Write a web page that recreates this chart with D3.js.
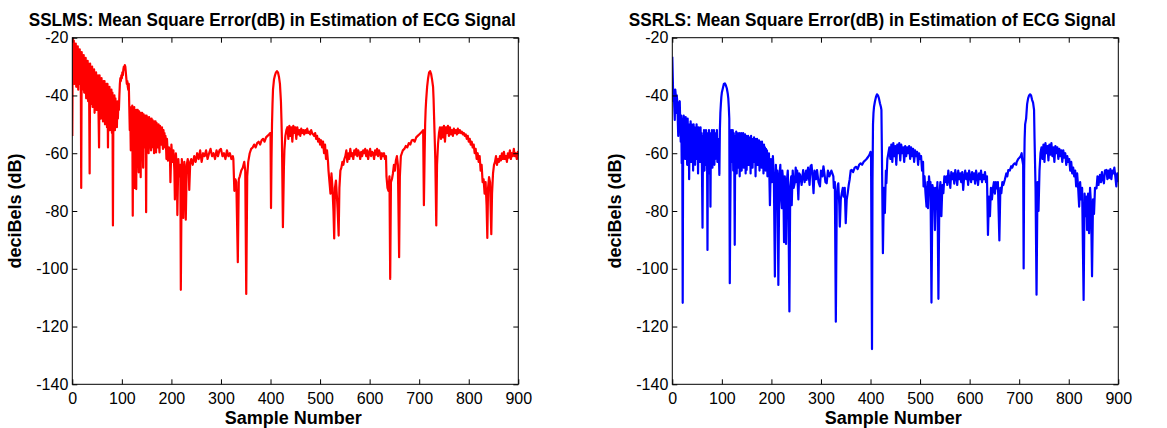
<!DOCTYPE html>
<html>
<head>
<meta charset="utf-8">
<script src="https://cdnjs.cloudflare.com/ajax/libs/d3/7.8.5/d3.min.js"></script>
<style>
  body { margin: 0; background: #fff; }
  text { font-family: "Liberation Sans", Arial, sans-serif; }
</style>
</head>
<body>
<div id="chart"></div>
<script>
// Tick values
var xTickValues = [0, 100, 200, 300, 400, 500, 600, 700, 800, 900];
var yTickValues = [-140, -120, -100, -80, -60, -40, -20];

// Titles
var panelTitles = [
  "SSLMS: Mean Square Error(dB) in Estimation of ECG Signal",
  "SSRLS: Mean Square Error(dB) in Estimation of ECG Signal"
];

// SSLMS mean square error, [sample number, dB]
var sslmsMse = [
  [0,-54],[1,-20],[2,-33],[3,-21],[4,-36],[5,-22],[6,-30],[7,-22],[8,-37],[9,-23],[10,-34],[11,-23],[12,-38],[13,-24],[14,-33],[15,-24],[16,-36],[17,-25],[18,-72],[19,-25],
  [20,-38],[21,-26],[22,-34],[23,-26],[24,-39],[25,-27],[26,-36],[27,-27],[28,-41],[29,-28],[30,-37],[31,-28],[32,-42],[33,-29],[34,-40],[35,-67],[36,-29],[37,-43],[38,-30],[39,-39],
  [40,-30],[41,-44],[42,-31],[43,-41],[44,-31],[45,-46],[46,-32],[47,-42],[48,-32],[49,-45],[50,-33],[51,-43],[52,-33],[53,-47],[54,-58],[55,-33],[56,-46],[57,-34],[58,-48],[59,-34],
  [60,-44],[61,-35],[62,-49],[63,-35],[64,-46],[65,-35],[66,-50],[67,-36],[68,-47],[69,-36],[70,-51],[71,-36],[72,-58],[73,-37],[74,-48],[75,-37],[76,-52],[77,-38],[78,-49],[79,-38],
  [80,-53],[81,-39],[82,-85],[83,-40],[84,-50],[85,-40],[86,-52],[87,-41],[88,-49],[89,-42],[90,-51],[91,-42],[92,-48],
  [93,-42],[94,-45],[95,-40],[96,-36],[97,-34],[98,-35],[99,-33],[100,-34],[101,-32],[102,-33],[103,-31],[104,-30],[105,-31],[106,-29.5],[107,-30],[108,-32],[109,-34],[110,-36],
  [111,-35],[112,-37],[113,-38],[114,-36],[115,-44],[116,-52],[117,-47],
  [118,-59],[119,-44],[120,-50],[121,-43.5],[122,-81.6],[123,-44],[124,-56],[125,-44],[126,-72],[127,-45],[128,-58],[129,-72.4],[130,-45],[131,-55],[132,-45],[133,-60],[134,-66.6],
  [135,-45.5],[136,-57],[137,-46],[138,-68.3],[139,-46],[140,-59],[141,-46],[142,-56],[143,-65],[144,-46.5],[145,-58],[146,-47],[147,-55],[148,-47],[149,-80.4],[150,-47],[151,-57],
  [152,-47.5],[153,-58],[154,-60],[155,-47.5],[156,-56],[157,-48],[158,-57],[159,-59],[160,-48],[161,-55],[162,-48.5],[163,-58],[164,-49],[165,-60],[166,-49],[167,-56],[168,-49],
  [169,-59.7],[170,-49.5],[171,-56],[172,-50],[173,-58],[174,-50],[175,-57],[176,-59.7],[177,-50.5],[178,-55],[179,-51],[180,-57],[181,-51],[182,-56],[183,-58.5],[184,-52],
  [185,-56],[186,-53],[187,-58],[188,-54],[189,-57],[190,-62],[191,-55],[192,-58],[193,-62.6],
  [195,-58],[197,-60],[198,-70],[200,-57],[202,-63],[204,-59],[206,-66],[207,-76],[209,-60],[211,-65],[212,-81.4],[214,-62],[216,-68],[218,-64],[219,-107.3],[221,-62],[223,-70],
  [224,-82.4],[226,-63],[228,-69],[229,-83],[231,-64],[233,-62],[235,-66],[236,-72.7],[238,-63],[240,-62],[243,-64],[246,-61],[249,-63],[252,-60],[255,-62],[258,-59],[261,-63],
  [264,-60],[267,-61],[270,-59],[273,-62],[276,-60],[279,-58.5],[282,-61],[285,-60],[288,-62],[291,-59],[294,-61],[297,-59],[300,-58.5],[303,-61],[306,-60],[309,-62],[312,-59],
  [315,-61],[318,-60],[321,-62],[324,-61],
  [325,-62],[327,-73],[329,-69],[331,-70],[334,-97.7],[336,-69],[338,-68],[341,-66],[344,-65],[347,-63],[349,-66],[351,-108.7],[353,-68],[355,-63],[358,-60],[361,-58.5],[364,-58],
  [367,-57],[370,-58],[373,-56.5],[376,-56],[379,-57],[382,-55.5],[385,-55],[388,-56],[391,-54.5],[394,-54],[397,-53.5],[399,-53],
  [400,-53],[401,-79],[402,-62],[403,-50],[404,-43],[405,-38],[407,-34.5],[409,-33],[411,-32],[413,-31.6],[415,-32],[417,-33.5],[419,-36],[420,-39],[421,-42],[422,-48],[423,-55],
  [425,-85.6],[427,-65],[428,-59],[430,-54],[432,-52],
  [434,-51],[436,-55],[438,-50.5],[440,-54],[442,-51],[444,-56],[446,-50.5],[448,-53],[450,-51],[452,-55],[454,-51],[456,-53.5],[458,-52],[460,-54],[462,-51.5],[464,-53],[466,-52],
  [468,-53.5],[470,-52],[472,-53],[474,-51.5],[476,-53],[478,-52.5],[480,-53.5],[482,-52],[484,-53],[486,-53.5],[488,-54],[490,-53],[492,-55],[494,-54],[496,-56],[498,-55],
  [500,-57],[502,-55.5],[504,-58],[506,-56],[508,-60],[510,-57],[512,-62],[514,-59],[516,-63],
  [517,-66],[519,-70],[521,-74],[523,-67],[525,-72],[527,-80],[528.5,-89.5],[530,-72],[532,-69.5],[534,-75],[535.5,-80],[537.5,-88.5],[539,-72],[541,-66],[543,-65],[545,-63],
  [547,-64],[549,-62],
  [551,-61],[553,-59],[555,-63],[557,-60],[559,-62],[561,-58.5],[563,-61],[565,-60],[567,-62],[569,-59],[571,-60.5],[573,-58.5],[575,-61],[577,-59],[579,-60],[581,-62],[583,-59.5],
  [585,-61],[587,-59],[589,-60],[591,-58.5],[593,-61],[595,-59],[597,-62],[599,-60],[601,-58.5],[603,-61],[605,-59.5],[607,-60],[609,-62],[611,-59],[613,-60.5],[615,-58.5],
  [617,-61],[619,-59],[621,-60],[623,-62],[625,-60],[627,-61],[629,-60],[631,-62],[633,-61],
  [634,-68],[636,-72],[638,-73],[640,-68],[641.5,-103.5],[643,-70],[645,-69],[647,-67],[649,-64],[651,-66],[653,-62.5],[655,-61],[657,-64],[659.5,-96],[661,-68],[663,-61],[665,-60],
  [667,-59],[670,-58.5],[673,-57.5],[676,-58],[679,-56.5],[682,-57],[685,-55.5],[688,-55.4],[691,-56],[694,-54.5],[697,-54],[700,-53.5],[703,-53],[706,-52.5],[708,-52],
  [709.5,-78],[711,-60],[712,-50],[713,-45],[714,-41.8],[716,-37],[718,-34],[720,-32],[722,-31.6],[724,-32.5],[726,-34.5],[728,-37],[729,-41],[730,-47],[731,-53],[732.5,-62],
  [734.5,-85],[736,-64],[738,-56.8],[740,-53],[742,-51],
  [744,-55],[746,-51],[748,-54.5],[750,-50.5],[752,-56],[754,-51],[756,-53],[758,-50.5],[760,-54],[762,-51],[764,-53.5],[766,-52],[768,-54],[770,-51.5],[772,-53],[774,-52],
  [776,-53.5],[778,-51.5],[780,-53],[782,-52],[784,-53],[786,-52.5],[788,-53.5],[790,-53],[792,-54],[794,-53.5],[796,-55],[798,-54],[800,-56],[802,-55],[804,-57],[806,-56],
  [808,-58],[810,-57],[812,-60],[814,-58.5],[816,-62],[818,-60],[820,-63],[822,-61],
  [824,-66],[826,-64],[828,-70],[830,-69],[832,-74],[834,-70],[836,-78],[837.5,-89.3],[839,-72],[841,-68.3],[843,-70],[844,-78],[845.5,-88],[847,-74],[849,-67],[851,-64],[853,-63],
  [855,-61],[857,-64],[859,-62],[861,-63],[863,-61],[865,-62.5],[867,-60],[869,-62],[871,-59.5],[873,-62],[875,-61],[877,-63],[879,-60],[881,-61.5],[883,-59],[885,-62],[887,-60],
  [889,-61],[891,-58.5],[893,-61],[895,-60],[897,-62],[899,-59.5],[900,-61]
];

// SSRLS mean square error, [sample number, dB]
var ssrlsMse = [
  [0,-26.6],[1,-34],[2,-42],[3,-38],[4,-44],[5,-48.5],[6,-38],[7,-40],[8,-46],[9,-40],[10,-42],[12,-54],[13,-43],[15,-42],[17,-56],[18,-47],[19,-63.5],[20,-48],[21,-111.8],
  [22,-50],[23,-47],[24,-58],[25,-49],[26,-62],[27,-47.5],[28,-57],[29,-50],[30,-64],[31,-48],[32,-60],[33,-50],[34,-69],[35,-51],[36,-58],[37,-49],[38,-63],[39,-50],[40,-61],
  [41,-51],[42,-66],[43,-50],[44,-59],[45,-52],[46,-64],[47,-51],[48,-57],[49,-50],[50,-62],[51,-52],[52,-67],[53,-51],[54,-59],[55,-52],[56,-63],[57,-51],[58,-60],[59,-53],
  [60,-68],[61,-85.8],[62,-54],[63,-61],[64,-52],[65,-66],[66,-53],[67,-60],[68,-52],[69,-64],[70,-54],[71,-93.5],[72,-53],[73,-62],[74,-52],[75,-67],[76,-54],[77,-78.5],
  [78,-53],[79,-61],[80,-52],[81,-65],[82,-53],[83,-60],[84,-52],[85,-64],[86,-54],[87,-62],[88,-53],[89,-58],[90,-52],[91,-63],[92,-55],[93,-61],[94,-60],[95,-67.5],
  [96,-52],[97,-46],[98,-43],[99,-40.5],[100,-39],[102,-37.5],[104,-36],[106,-35.8],[108,-36.5],[110,-37.5],[112,-39.5],[113,-41],[114,-44],[115,-48],[116,-105],[117,-80],
  [118,-60],[119,-52],
  [120,-54],[121,-63],[122,-52],[123,-66],[124,-53],[125,-61],[126,-91.7],[127,-54],[128,-64],[129,-52.5],[130,-67],[131,-53],[132,-60],[133,-54],[134,-65],[135,-53],[136,-68],
  [137,-54],[138,-62],[139,-53],[140,-66],[141,-54.5],[142,-60],[143,-53],[144,-65],[145,-54],[146,-61],[147,-53.5],[148,-67],[149,-54],[150,-65.8],[151,-55],[152,-60],
  [153,-54],[154,-64],[155,-54.5],[156,-62],[157,-55],[158,-67],[159,-54],[160,-61],[161,-55],[162,-65],[163,-55.5],[164,-60],[165,-54.5],[166,-63],[167,-55],[168,-68],
  [169,-56],[170,-62],[171,-55],[172,-64],[173,-56],[174,-60],[175,-55.5],[176,-66],[177,-56],[178,-61],[179,-57],[180,-65],[181,-56],[182,-62],[183,-57.5],[184,-67],
  [185,-57],[186,-63],[187,-58],[188,-66],[189,-58.5],[190,-64],[191,-59],[192,-68],[193,-60],[194,-65],[195,-60],
  [197,-78],[199,-62],[201,-70],[203,-61],[205,-69],[207,-102.7],[209,-64],[211,-72],[212,-66],[214,-105.6],[216,-68],[218,-64],[219,-74],[221,-79],[222,-66],[224,-70],
  [225.5,-90.8],[227,-68],[228,-72],[229.5,-91.4],[231,-70],[233,-66],[234,-72],[236.3,-114.8],[238,-72],[240,-68],[241,-78],[243,-66],[245,-72],[247.5,-70],[249,-65],
  [251,-70],[252,-66],[254.4,-76],[256,-67],
  [258,-67.5],[261,-71],[264,-65.8],[267,-70],[270,-66],[271,-69.2],[274,-65],[277,-71],[279,-64.5],[281,-64],[283,-68],[285,-73.8],[287,-66],[290,-69],[292,-65.8],[295,-70],
  [298,-71.5],[300,-66],[303,-68],[305,-64.5],[307,-67],[309,-70],[311.5,-70.4],[314,-66],[317,-68],[318,-67.5],[321,-66],[323,-67],[325,-68],
  [326,-72],[328,-70],[330,-118.3],[332,-74],[334,-71],[335,-70.4],[337,-78],[338,-85.4],[340,-76],[342,-73.8],[344,-72],[346,-75],[348,-72],[350,-84.2],[352,-76],[354,-73.8],
  [356,-71],[358,-69],[360,-66],[362,-65.8],[365,-66.5],[368,-65],[371,-64.7],[374,-65.5],[377,-64],[380,-63.5],[383,-64],[386,-63],[389,-62.5],[392,-62],[395,-61.3],
  [398,-60.5],[400,-59.5],
  [401,-60],[403,-127.8],[404,-70],[405,-50],[406,-46],[407,-44],[409,-42],[411,-40.5],[413,-39.6],[415,-40],[417,-41],[419,-42.7],[421,-44],[422,-45],[423,-60],[425,-94.6],
  [427,-72],[429,-80.7],[431,-66],[432,-70.4],[434,-62],[436,-60],
  [438,-58],[440,-62],[442,-57],[444,-63],[446,-56.5],[448,-61],[450,-57.5],[452,-64],[454,-57],[456,-60],[458,-56.5],[460,-62.5],[462,-57],[464,-60],[466,-58],[468,-63],
  [470,-57.5],[472,-61],[474,-58],[476,-60],[478,-57.5],[480,-62],[482,-58],[484,-61],[486,-58.5],[488,-63],[490,-59],[492,-61],[494,-59.5],[496,-64],[498,-60],[500,-62],
  [502,-61],[504,-66],[506,-63],
  [507,-71.5],[509,-68],[511,-74],[513,-78.5],[515,-70],[516,-79],[518,-68],[520,-72],[521,-70],[523,-111.7],[525,-71],[527,-76],[528,-72],[530,-86.6],[532,-72],[533,-79],
  [535,-70],[537,-110.4],[539,-74],[541,-70],[543,-81.8],[545,-71],[547,-73.8],[549,-68],[551,-70],
  [553,-68],[555,-71],[557,-66],[559,-69],[561,-72],[563,-66.5],[565,-69],[567,-67],[569,-70.5],[571,-65.8],[573,-68],[575,-71],[577,-66],[579,-69],[581,-67],[583,-70],
  [585,-66.5],[587,-72.7],[589,-68],[591,-66],[593,-69],[595,-67],[597,-71],[599,-66],[601,-68],[603,-70],[605,-66.5],[607,-69],[609,-67],[611,-70.5],[613,-66],[615,-68],
  [617,-71],[619,-67],[621,-69],[623,-66],[625,-70],[627,-67.5],[629,-69],[631,-66.5],[633,-70],[635,-68],
  [637,-88.3],[639,-75],[641,-81.8],[643,-72],[645,-76],[647,-72.2],[649,-70],[651,-74],[653,-70],[655,-72.2],[657,-70],[660,-90.2],[662,-72],[664,-73.8],[666,-70],[668,-71],
  [671,-69.2],[674,-67],[676,-68],[678,-65.8],[681,-66],[684,-64.5],[686,-65],[688,-64],[691,-63.5],[694,-64],[695,-63],[698,-62],[701,-61.5],[703,-61],[705,-60],
  [706,-62],[708,-64],[709,-99.9],[710,-66],[711,-55],[712,-50],[714,-48],[716,-43],[718,-41],[720,-40],[722,-39.6],[724,-40],[726,-41.5],[728,-42.5],[730,-45],[731,-55],
  [733,-72],[735,-109],[737,-70],[739,-80],[741,-66],[743,-60],
  [745,-58],[747,-62],[749,-57],[751,-63],[753,-56.5],[755,-60],[757,-57.5],[759,-62.5],[761,-57],[763,-60.5],[765,-56.5],[767,-61],[769,-58],[771,-63],[773,-57.5],[775,-60],
  [777,-58],[779,-62],[781,-58.5],[783,-61],[785,-59],[787,-63],[789,-59],[791,-61.5],[793,-60],[795,-64],[797,-61],[799,-63],[801,-62],[803,-66],[805,-63],[807,-67],[809,-65],
  [811,-68],[813,-66],[815,-71.5],[817,-67],[819,-72],[821,-78.5],[823,-70],[825,-76],[827,-72],[830,-110.8],[832,-74],[834,-81.8],[836,-75],[837,-86.6],[839,-74],[841,-87.7],
  [843,-72],[845,-78],[847,-102.6],[849,-76],[851,-81],[853,-72],[856,-72.2],[858,-68],[860,-71],[863,-67.5],[865,-70],[867,-66.5],[869,-69],[871,-70.4],[873,-66],[876,-65.8],
  [878,-69],[880,-66],[882,-68.5],[884,-65.5],[886,-69],[888,-66],[890,-67],[892,-65],[894,-68],[896,-71.5],[898,-67],[900,-70]
];

var seriesList = [sslmsMse, ssrlsMse];
var seriesColors = ["#ff0000", "#0000ff"];

// SVG area
var svgWidth = 1167;
var svgHeight = 428;

// plot box of each panel
var plotTop = 37.7;
var plotHeight = 346.6;
var plotWidth = 446;
var plotLefts = [72.3, 672.3];

var svg = d3.select("#chart")
  .append("svg")
  .attr("width", svgWidth)
  .attr("height", svgHeight);

var xScale = d3.scaleLinear().domain([0, 900]).range([0, plotWidth]);
var yScale = d3.scaleLinear().domain([-140, -20]).range([plotHeight, 0]);

var fontFamily = '"Liberation Sans", Arial, sans-serif';

// plain hyphen for negatives, like the original
var plainFormat = d => String(d);

function styleAxis(g) {
  g.attr("font-family", fontFamily).attr("font-size", 16);
  g.select(".domain").remove();
  g.selectAll(".tick line").attr("stroke", "#000");
  g.selectAll(".tick text").attr("fill", "#000");
}

plotLefts.forEach(function(left, i) {
  var g = svg.append("g")
    .attr("transform", `translate(${left}, ${plotTop})`);

  // clip the line to the box
  g.append("clipPath")
    .attr("id", "clip" + i)
    .append("rect")
    .attr("width", plotWidth)
    .attr("height", plotHeight);

  var line = d3.line()
    .x(d => xScale(d[0]))
    .y(d => yScale(d[1]));

  g.append("path")
    .datum(seriesList[i])
    .attr("clip-path", `url(#clip${i})`)
    .attr("fill", "none")
    .attr("stroke", seriesColors[i])
    .attr("stroke-width", 2.2)
    .attr("stroke-linejoin", "round")
    .attr("d", line);

  // ticks on all four sides, pointing inwards
  g.append("g")
    .attr("transform", `translate(0, ${plotHeight})`)
    .call(d3.axisBottom(xScale).tickValues(xTickValues).tickFormat(plainFormat).tickSizeInner(-5).tickSizeOuter(0).tickPadding(8))
    .call(styleAxis);

  g.append("g")
    .call(d3.axisTop(xScale).tickValues(xTickValues).tickSizeInner(-5).tickSizeOuter(0).tickFormat(""))
    .call(styleAxis);

  g.append("g")
    .call(d3.axisLeft(yScale).tickValues(yTickValues).tickFormat(plainFormat).tickSizeInner(-5).tickSizeOuter(0).tickPadding(4))
    .call(styleAxis);

  g.append("g")
    .attr("transform", `translate(${plotWidth}, 0)`)
    .call(d3.axisRight(yScale).tickValues(yTickValues).tickSizeInner(-5).tickSizeOuter(0).tickFormat(""))
    .call(styleAxis);

  // box
  g.append("rect")
    .attr("width", plotWidth)
    .attr("height", plotHeight)
    .attr("fill", "none")
    .attr("stroke", "#000")
    .attr("stroke-width", 1);

  // title
  g.append("text")
    .attr("x", -43.5)
    .attr("y", -12)
    .attr("font-size", 18)
    .attr("font-weight", "bold")
    .attr("textLength", 487)
    .attr("lengthAdjust", "spacingAndGlyphs")
    .text(panelTitles[i]);

  // x label
  g.append("text")
    .attr("x", plotWidth / 2 - 2)
    .attr("y", plotHeight + 40)
    .attr("text-anchor", "middle")
    .attr("font-size", 18)
    .attr("font-weight", "bold")
    .text("Sample Number");

  // y label
  g.append("text")
    .attr("transform", `translate(-51, ${plotHeight / 2}) rotate(-90)`)
    .attr("text-anchor", "middle")
    .attr("font-size", 18)
    .attr("font-weight", "bold")
    .text("deciBels (dB)");
});
</script>
</body>
</html>
